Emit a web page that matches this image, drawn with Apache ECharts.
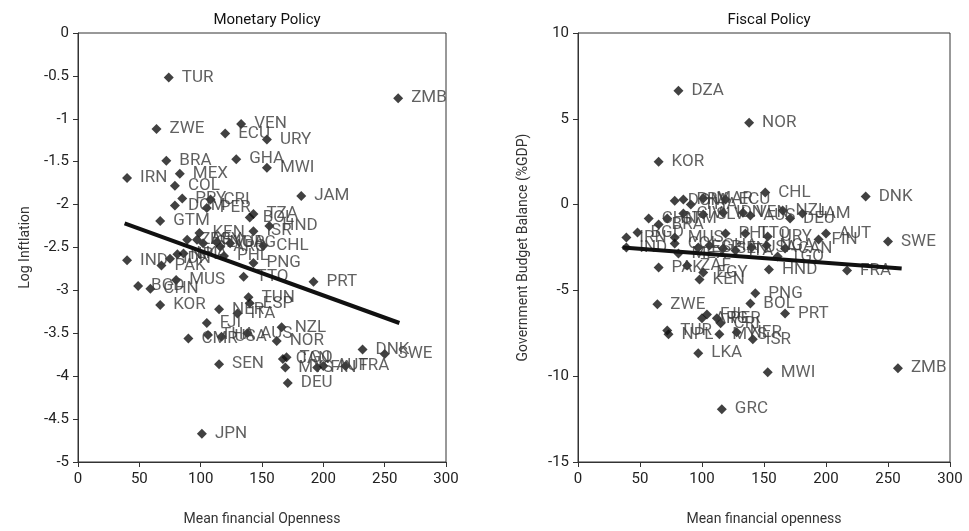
<!DOCTYPE html>
<html>
<head>
<meta charset="utf-8">
<script src="https://cdn.jsdelivr.net/npm/echarts@6/dist/echarts.min.js"></script>
<style>
  html, body { margin: 0; padding: 0; background: #fff; }
  #chart { width: 969px; height: 531px; }
</style>
</head>
<body>
<div id="chart"></div>
<script>
  // Monetary policy: mean financial openness vs log inflation
  const monCodes = ['TUR','ZMB','ZWE','VEN','ECU','URY','BRA','GHA','MWI','IRN','MEX','COL','PRY','CRI','DOM','PER','JAM','TZA','BOL','HND','GTM','KEN','ISR','ZAF','EGY','SLV','NGA','ARG','URG','CHL','IND','IDN','NPL','LKA','PAK','PHL','PNG','TTO','PRT','MUS','BGD','CHN','TUN','ESP','KOR','NER','ITA','FJI','CMR','THA','USA','AUS','NZL','NOR','SEN','JPN','CAN','TGO','MYS','FIN','AUT','FRA','DEU','DNK','SWE'];
  const monX = [74,261,64,133,120,154,72,129,154,40,83,79,85,108,79,105,182,143,140,156,67,99,143,89,97,102,113,116,124,151,40,75,81,86,68,119,143,135,192,80,49,59,139,140,67,115,130,105,90,106,117,138,166,162,115,101,167,170,169,195,200,218,171,232,250];
  const monY = [-0.52,-0.76,-1.12,-1.06,-1.17,-1.24,-1.49,-1.47,-1.57,-1.69,-1.64,-1.78,-1.93,-1.94,-2.01,-2.04,-1.90,-2.11,-2.15,-2.25,-2.19,-2.33,-2.31,-2.41,-2.41,-2.45,-2.44,-2.49,-2.45,-2.48,-2.65,-2.63,-2.58,-2.57,-2.71,-2.60,-2.68,-2.84,-2.90,-2.88,-2.95,-2.98,-3.08,-3.15,-3.17,-3.22,-3.27,-3.38,-3.56,-3.52,-3.54,-3.50,-3.43,-3.59,-3.86,-4.67,-3.80,-3.78,-3.90,-3.90,-3.88,-3.88,-4.08,-3.69,-3.74];
  const monFitX = [38, 262];
  const monFitY = [-2.22, -3.38];

  // Fiscal policy: mean financial openness vs budget balance
  const fisCodes = ['DZA','NOR','KOR','DOM','PRY','THA','MAR','ECU','CHL','DNK','SWE','AUT','FIN','FRA','HND','PNG','NZL','JAM','DEU','VEN','AUS','CAN','TGO','URY','PHL','TTO','MUS','CHN','BRA','GTM','CIV','SLV','IDN','IRN','IND','BGD','COL','MEX','ESP','GHA','SEN','ITA','USA','NGA','PAK','ZAF','EGY','KEN','ZWE','TUR','NPL','LKA','GRC','FJI','ARG','PER','CRI','MYS','NER','ISR','BOL','PRT','MWI','ZMB'];
  const fisX = [81,138,65,78,85,91,101,119,151,232,250,200,194,217,154,143,165,181,171,133,139,167,161,153,119,135,78,57,65,72,85,101,117,39,39,48,78,81,97,106,117,127,140,152,65,88,101,98,64,72,73,97,116,104,100,112,115,114,128,141,139,167,153,258];
  const fisY = [6.63,4.77,2.5,0.23,0.29,0.0,0.35,0.29,0.7,0.47,-2.15,-1.69,-2.03,-3.84,-3.78,-5.17,-0.35,-0.52,-0.81,-0.47,-0.64,-2.56,-3.02,-1.86,-1.69,-1.69,-1.92,-0.81,-1.16,-0.81,-0.52,-0.58,-0.47,-1.92,-2.5,-1.63,-2.27,-2.85,-2.5,-2.38,-2.56,-2.67,-2.5,-2.38,-3.66,-3.55,-3.95,-4.36,-5.81,-7.33,-7.56,-8.66,-11.92,-6.4,-6.63,-6.63,-6.92,-7.56,-7.44,-7.85,-5.76,-6.34,-9.77,-9.53];
  const fisFitX = [36, 261];
  const fisFitY = [-2.5, -3.72];

  const xTicks = [0, 50, 100, 150, 200, 250, 300];

  const toPoints = (codes, xs, ys) => codes.map((c, i) => ({ name: c, value: [xs[i], ys[i]] }));
  const toLine = (xs, ys) => xs.map((x, i) => [x, ys[i]]);

  const font = 'Roboto, "Liberation Sans", sans-serif';
  const axisColor = '#333';

  const xAxisBase = (gridIndex, name) => ({
    gridIndex,
    type: 'value',
    min: xTicks[0],
    max: xTicks[xTicks.length - 1],
    interval: 50,
    name,
    nameLocation: 'middle',
    nameGap: 50,
    nameTextStyle: { fontSize: 14, color: '#333', fontFamily: font },
    axisLine: { show: true, onZero: false, lineStyle: { color: axisColor } },
    axisTick: { show: true, length: 5, lineStyle: { color: axisColor } },
    axisLabel: { fontSize: 15, color: '#222', margin: 10, fontFamily: font },
    splitLine: { show: false }
  });

  const yAxisBase = (gridIndex, name, min, max, interval, gap) => ({
    gridIndex,
    type: 'value',
    min, max, interval,
    name,
    nameLocation: 'middle',
    nameGap: gap,
    nameTextStyle: { fontSize: 14, color: '#333', fontFamily: font },
    axisLine: { show: true, onZero: false, lineStyle: { color: axisColor } },
    axisTick: { show: true, length: 5, lineStyle: { color: axisColor } },
    axisLabel: { fontSize: 15, color: '#222', margin: 9, fontFamily: font },
    splitLine: { show: false }
  });

  const scatterSeries = (idx, data) => ({
    type: 'scatter',
    xAxisIndex: idx,
    yAxisIndex: idx,
    symbol: 'diamond',
    symbolSize: 10,
    itemStyle: { color: '#111' },
    label: {
      show: true,
      position: 'right',
      distance: 8,
      formatter: '{b}',
      fontSize: 17,
      color: '#3a3a3a',
      fontFamily: font
    },
    labelLayout: { hideOverlap: false },
    silent: true,
    data
  });

  const fitSeries = (idx, data) => ({
    type: 'line',
    xAxisIndex: idx,
    yAxisIndex: idx,
    symbol: 'none',
    lineStyle: { color: '#111', width: 4 },
    silent: true,
    z: 3,
    data
  });

  const myChart = echarts.init(document.getElementById('chart'));
  const options = {
    animation: false,
    backgroundColor: '#fff',
    title: [
      { text: 'Monetary Policy', left: 262, top: 8, textAlign: 'center',
        textStyle: { fontSize: 15, fontWeight: 'normal', color: '#111', fontFamily: font } },
      { text: 'Fiscal Policy', left: 764, top: 8, textAlign: 'center',
        textStyle: { fontSize: 15, fontWeight: 'normal', color: '#111', fontFamily: font } }
    ],
    grid: [
      { left: 78, right: 523, top: 33, bottom: 67, show: true, borderColor: '#333', borderWidth: 1 },
      { left: 578, right: 19, top: 33, bottom: 67, show: true, borderColor: '#333', borderWidth: 1 }
    ],
    xAxis: [
      xAxisBase(0, 'Mean financial Openness'),
      xAxisBase(1, 'Mean financial openness')
    ],
    yAxis: [
      yAxisBase(0, 'Log Inftlation', -5, 0, 0.5, 46),
      yAxisBase(1, 'Government Budget Balance (%GDP)', -15, 10, 5, 48)
    ],
    series: [
      scatterSeries(0, toPoints(monCodes, monX, monY)),
      fitSeries(0, toLine(monFitX, monFitY)),
      scatterSeries(1, toPoints(fisCodes, fisX, fisY)),
      fitSeries(1, toLine(fisFitX, fisFitY))
    ]
  };
  myChart.setOption(options);
</script>
</body>
</html>
